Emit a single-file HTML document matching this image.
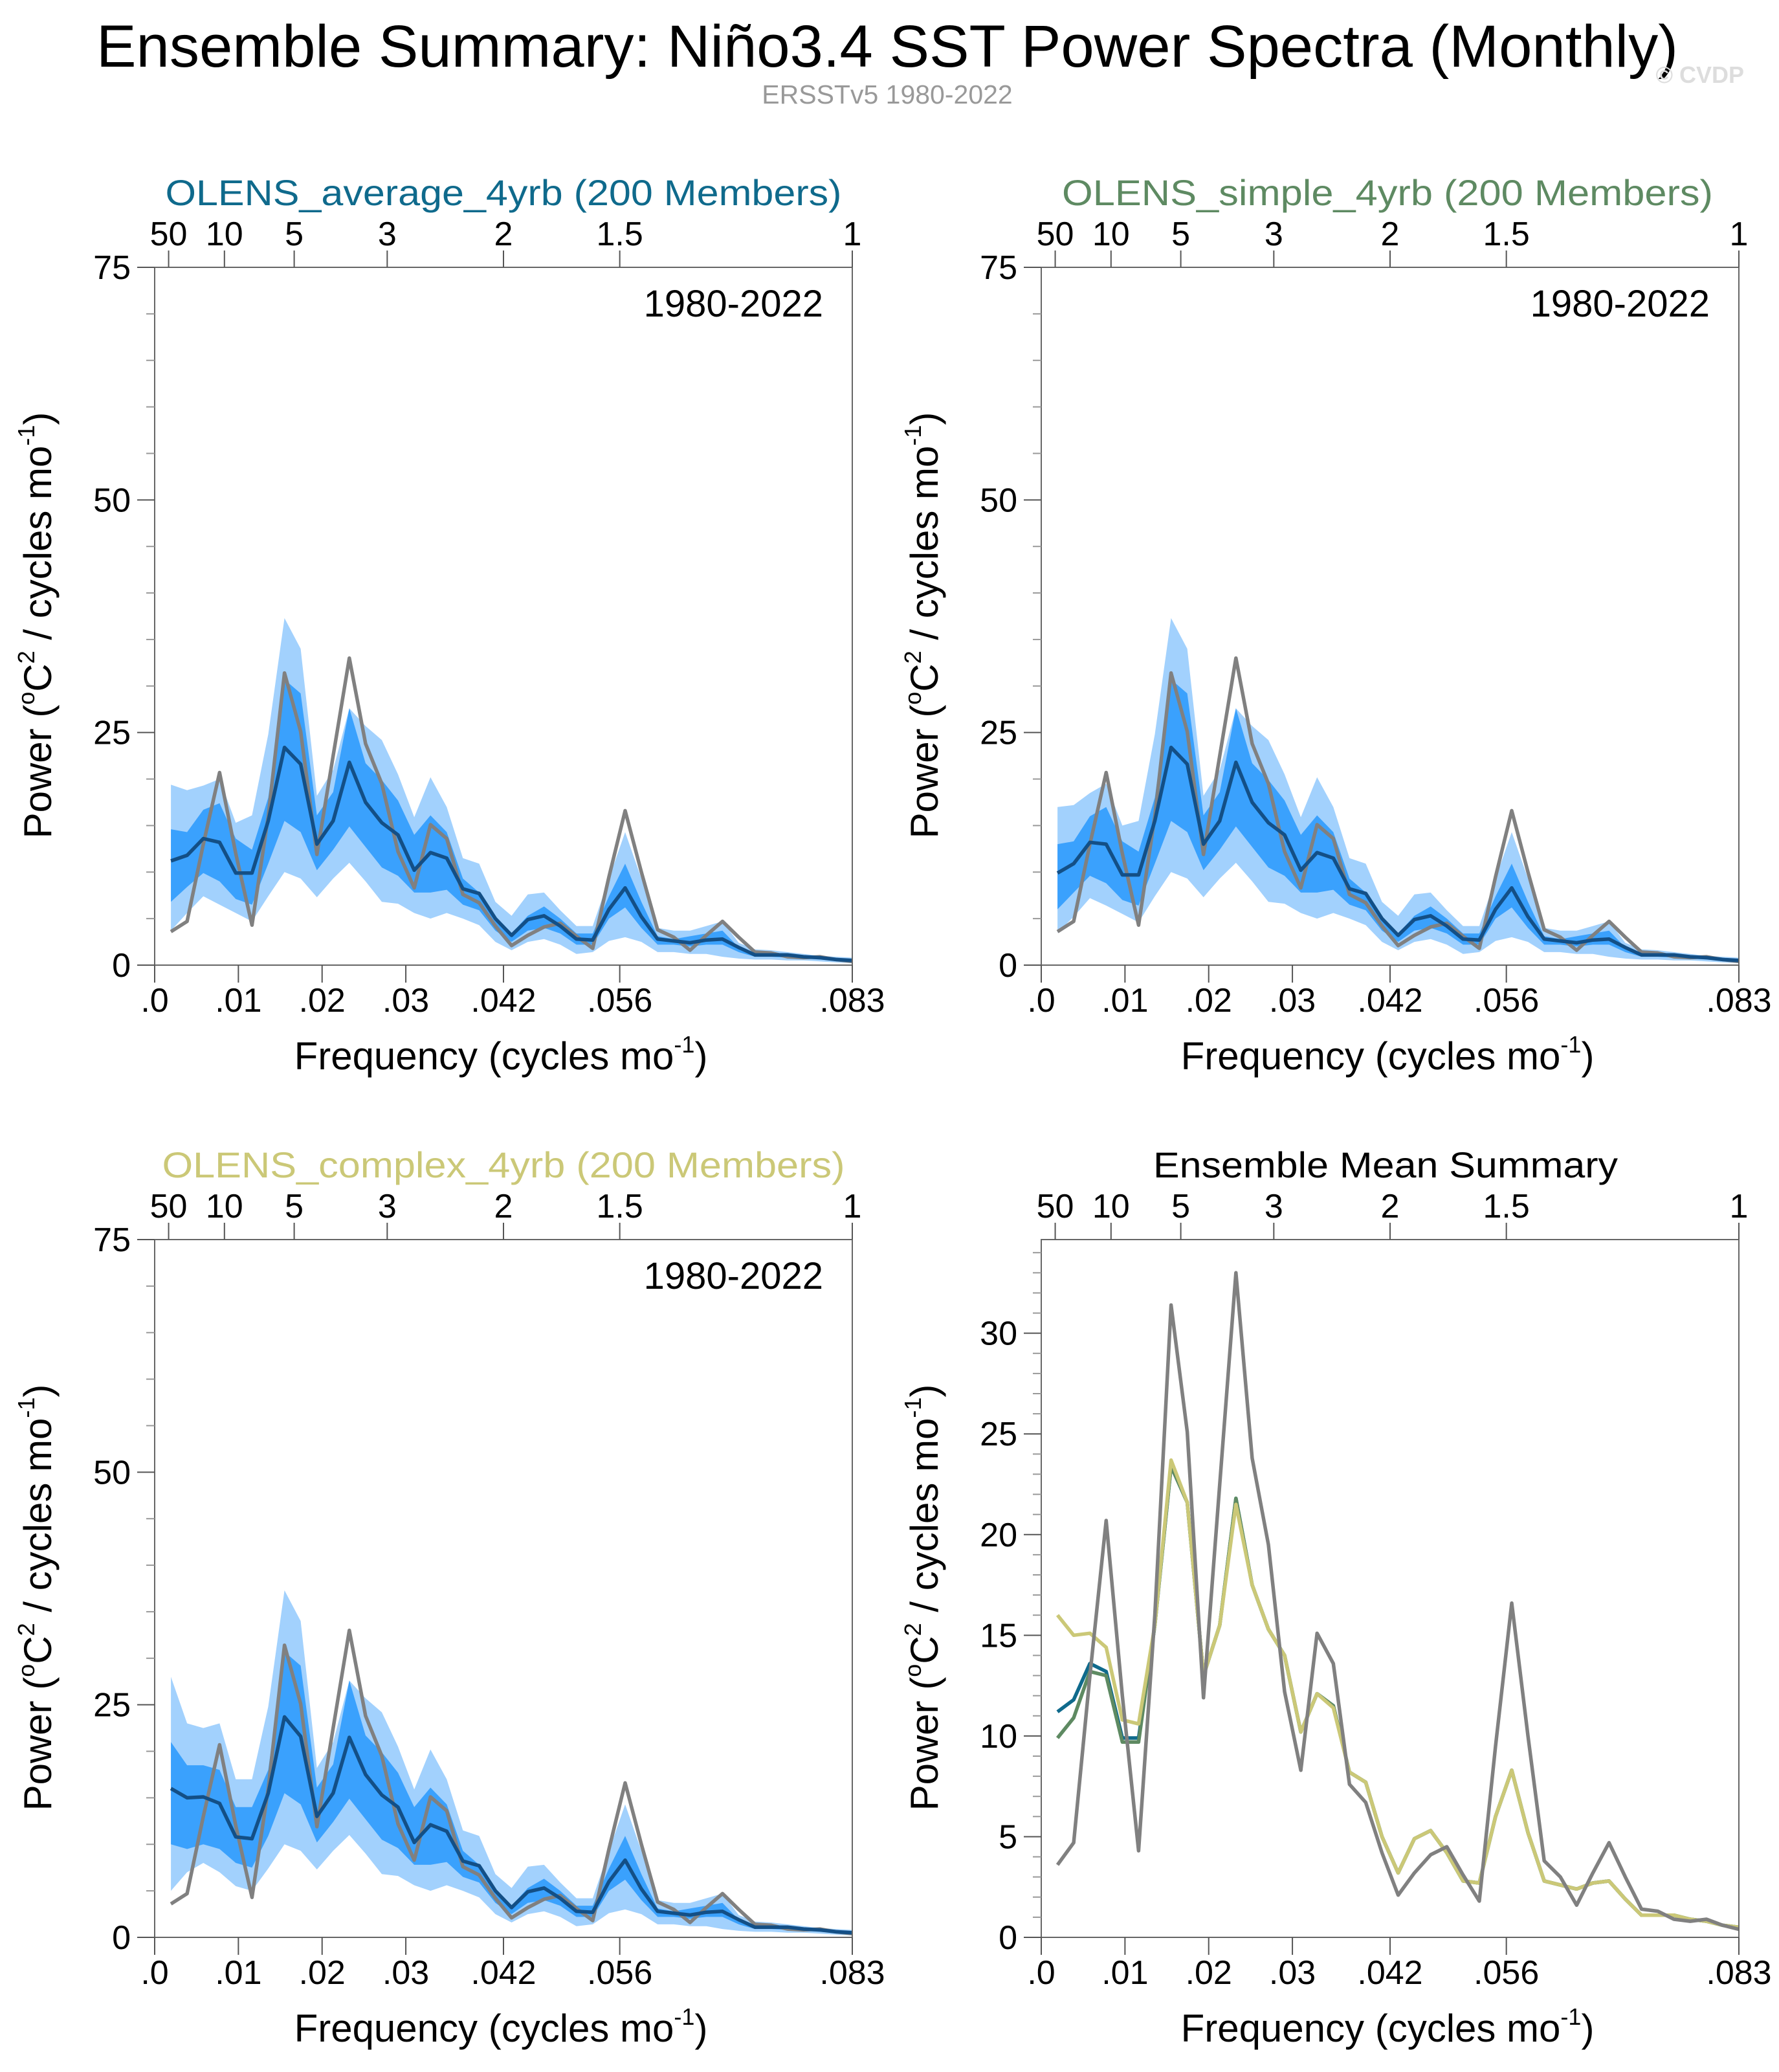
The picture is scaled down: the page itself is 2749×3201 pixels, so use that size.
<!DOCTYPE html>
<html><head><meta charset="utf-8"><style>
html,body{margin:0;padding:0;background:#fff;}
svg{display:block;font-family:"Liberation Sans",sans-serif;}
</style></head>
<body>
<svg id="fig" width="2749" height="3201" viewBox="0 0 2749 3201" xmlns="http://www.w3.org/2000/svg">
<text x="1371" y="103" font-size="92" text-anchor="middle" textLength="2444" lengthAdjust="spacingAndGlyphs">Ensemble Summary: Niño3.4 SST Power Spectra (Monthly)</text>
<text x="1371" y="160" font-size="41" fill="#999" text-anchor="middle">ERSSTv5 1980-2022</text>
<text x="2695" y="128" font-size="36" fill="#ddd" font-weight="bold" text-anchor="end">© CVDP</text>
</svg>
<script>
// frequencies index k=1..43 -> k/516 cycles per month
const nPts = 43;
const obs = [3.6,4.7,13,20.7,12,4.3,16,31.4,25.1,11.9,22.5,33.0,23.8,19.5,12.2,8.3,15.1,13.6,7.6,6.7,4.2,2.1,3.2,4.1,4.5,3.1,1.8,9.5,16.6,10,3.8,3.0,1.6,3.2,4.7,3.0,1.4,1.3,0.9,0.8,0.9,0.6,0.4];
const meanAvg = [11.2,11.8,13.6,13.2,9.9,9.9,15.5,23.4,21.6,13.0,15.5,21.8,17.5,15.3,14.0,10.2,12.1,11.5,8.2,7.7,5.0,3.2,4.9,5.3,4.2,2.8,2.7,6.0,8.3,5.2,2.8,2.6,2.4,2.7,2.8,1.9,1.1,1.1,1.1,0.9,0.8,0.6,0.5];
const meanSimple = [9.9,10.9,13.2,13.0,9.7,9.7,15.5,23.4,21.6,13.0,15.5,21.8,17.5,15.3,14.0,10.2,12.1,11.5,8.2,7.7,5.0,3.2,4.9,5.3,4.2,2.8,2.7,6.0,8.3,5.2,2.8,2.6,2.4,2.7,2.8,1.9,1.1,1.1,1.1,0.9,0.8,0.6,0.5];
const meanComplex = [16.0,15.0,15.1,14.4,10.8,10.6,15.5,23.7,21.6,13.0,15.5,21.5,17.5,15.3,14.0,10.2,12.1,11.4,8.2,7.7,5.0,3.2,4.9,5.3,4.2,2.8,2.7,6.0,8.3,5.2,2.8,2.6,2.4,2.7,2.8,1.9,1.1,1.1,1.1,0.9,0.8,0.6,0.5];
const lightUp = [19.4,18.8,19.3,20,15.3,16.1,24.8,37.3,34,18.2,21,27.6,25.7,24.2,20.5,15.9,20.2,17,11.5,10.9,6.8,5.3,7.6,7.8,5.9,4.2,4.2,9.3,14.3,9.3,4.0,3.7,3.7,4.2,4.7,2.4,1.7,1.6,1.4,1.2,1.0,0.9,0.8];
const lightLo = [3.7,5.6,7.4,6.5,5.6,4.7,7.4,10,9.3,7.3,9.3,11,9,6.8,6.6,5.6,5.0,5.6,5,4.3,2.5,1.6,2.5,2.8,2.2,1.2,1.4,2.6,3.0,2.5,1.4,1.4,1.2,1.2,0.9,0.7,0.6,0.6,0.5,0.5,0.4,0.3,0.2];
const darkUp = [14.6,14.3,16.7,17.4,13.6,12.4,18,30.7,29.2,16.1,18.6,27.6,21.7,19.9,17.7,14,16.1,14.3,9.3,7.8,5,3.4,5.3,6.3,5,3.4,3.4,7.4,10.9,6.8,3.1,2.8,3.1,3.4,3.7,1.9,1.2,1.2,1.1,1.0,0.9,0.7,0.6];
const darkLo = [6.8,8.4,9.9,9,7.1,6.5,10.9,15.5,14.3,10.2,12.4,14.9,12.7,10.5,9.6,7.8,7.8,8.1,6.5,5.9,3.7,2.5,3.7,4,3.4,2.2,2.2,5,6.2,4,2.2,2.2,2,2.2,2.2,1.4,0.9,0.9,0.8,0.7,0.6,0.5,0.4];
const simpleHead = {lu:[17,17.2,18.5,19.5,15,15.5], ll:[3.5,5.2,7.2,6.4,5.5,4.6], du:[13,13.3,16,17,13.3,12.2], dl:[6,7.8,9.6,8.8,7,6.4]};
const complexHead = {lu:[28,23,22.5,23,17,17], ll:[5,7,8,7,5.5,5], du:[21,18.5,18.5,18,14,14], dl:[10,9.5,10,9.5,8,7.5]};
const botTicks = [0,0.01,0.02,0.03,1/24,1/18,1/12];
const botLabels = [".0",".01",".02",".03",".042",".056",".083"];
const topPeriods = [50,10,5,3,2,1.5,1];
const topLabels = ["50","10","5","3","2","1.5","1"];

const NS = "http://www.w3.org/2000/svg";
const svg = document.getElementById('fig');
function mk(tag, attrs, parent){ const e=document.createElementNS(NS,tag); for(const k in attrs) e.setAttribute(k,attrs[k]); (parent||svg).appendChild(e); return e; }
function withHead(arr, head){ return head.concat(arr.slice(head.length)); }

function panel(o){
  const L=o.x, T=o.y, W=1078, H=1078, xmax=1/12, ymax=o.ymax;
  const g = mk('g',{});
  
  
  const X = f => L + f/xmax*W;
  const Y = v => T + H - v/ymax*H;
  const fr = k => (k+1)/516;
  function poly(up, lo, fill, name){
    let d='M'+up.map((v,i)=>X(fr(i)).toFixed(1)+','+Y(v).toFixed(1)).join(' L');
    for(let i=lo.length-1;i>=0;i--) d+=' L'+X(fr(i)).toFixed(1)+','+Y(lo[i]).toFixed(1);
    const p=mk('path',{d:d+'Z',fill:fill,stroke:'none'},g);
    
    
  }
  function line(vals, col, name, w){
    const p=mk('polyline',{points:vals.map((v,i)=>X(fr(i)).toFixed(1)+','+Y(v).toFixed(1)).join(' '),fill:'none',stroke:col,'stroke-width':w||5.5,'stroke-linejoin':'round'},g);
    
    
  }
  if(o.bands){
    poly(o.bands.lu,o.bands.ll,'#a2d1fd','outer-spread-band');
    poly(o.bands.du,o.bands.dl,'#3aa1fd','inner-spread-band');
    line(obs,'#808080','observed-line');
    line(o.mean,'#134f86','ensemble-mean-line');
  } else {
    line(meanAvg,'#0f6a8c','average-mean-line');
    line(meanSimple,'#5e8a62','simple-mean-line');
    line(meanComplex,'#cbc877','complex-mean-line');
    line(obs,'#808080','observed-line');
  }
  const fr2=mk('rect',{x:L,y:T,width:W,height:H,fill:'none',stroke:'#666','stroke-width':2},g);
  
  
  for(let v=0; v<=ymax+1e-6; v+=o.minor){
    const major = Math.abs(v/o.major-Math.round(v/o.major))<1e-6;
    mk('line',{x1:L-(major?27:13),x2:L,y1:Y(v),y2:Y(v),stroke:major?'#555':'#999','stroke-width':2},g);
    if(major){
      const t=mk('text',{x:L-37,y:Y(v)+18,'font-size':52,'text-anchor':'end'},g);
      t.textContent=String(Math.round(v));
      
      
    }
  }
  botTicks.forEach((f,i)=>{
    mk('line',{x1:X(f),x2:X(f),y1:T+H,y2:T+H+27,stroke:'#555','stroke-width':2},g);
    const t=mk('text',{x:X(f),y:T+H+72,'font-size':52,'text-anchor':'middle'},g);
    t.textContent=botLabels[i];
    
    
  });
  topPeriods.forEach((p,i)=>{
    const f=1/(p*12);
    mk('line',{x1:X(f),x2:X(f),y1:T,y2:T-26,stroke:'#555','stroke-width':2},g);
    const t=mk('text',{x:X(f),y:T-34,'font-size':52,'text-anchor':'middle'},g);
    t.textContent=topLabels[i];
    
    
  });
  const tt=mk('text',{x:L+W/2+o.tdx,y:T-96,'font-size':56,fill:o.tcol,'text-anchor':'middle',textLength:o.tlen,lengthAdjust:'spacingAndGlyphs'},g);
  tt.textContent=o.title;
  
  
  if(o.bands){
    const yr=mk('text',{x:L+W-45,y:T+76,'font-size':58,'text-anchor':'end'},g);
    yr.textContent='1980-2022';
    
    
  }
  const xt=mk('text',{x:L+535,y:T+H+161,'font-size':60,'text-anchor':'middle'},g);
  xt.innerHTML='Frequency (cycles mo<tspan font-size="36" dy="-26">-1</tspan><tspan dy="26">)</tspan>';
  
  
  const yt=mk('text',{transform:`translate(${L-160},${T+H/2+14}) rotate(-90)`,'font-size':60,'text-anchor':'middle'},g);
  yt.innerHTML='Power (<tspan font-size="36" dy="-26">o</tspan><tspan dy="26">C</tspan><tspan font-size="36" dy="-26">2</tspan><tspan dy="26"> / cycles mo</tspan><tspan font-size="36" dy="-26">-1</tspan><tspan dy="26">)</tspan>';
  
  
}

const baseBands = {lu:lightUp, ll:lightLo, du:darkUp, dl:darkLo};
panel({name:'panel-average',x:239,y:413,ymax:75,minor:5,major:25,bands:baseBands,mean:meanAvg,title:'OLENS_average_4yrb (200 Members)',tcol:'#0f6a8c',tlen:1045,tdx:0});
panel({name:'panel-simple',x:1609,y:413,ymax:75,minor:5,major:25,bands:{lu:withHead(lightUp,simpleHead.lu),ll:withHead(lightLo,simpleHead.ll),du:withHead(darkUp,simpleHead.du),dl:withHead(darkLo,simpleHead.dl)},mean:meanSimple,title:'OLENS_simple_4yrb (200 Members)',tcol:'#5e8a62',tlen:1006,tdx:-4});
panel({name:'panel-complex',x:239,y:1915,ymax:75,minor:5,major:25,bands:{lu:withHead(lightUp,complexHead.lu),ll:withHead(lightLo,complexHead.ll),du:withHead(darkUp,complexHead.du),dl:withHead(darkLo,complexHead.dl)},mean:meanComplex,title:'OLENS_complex_4yrb (200 Members)',tcol:'#cbc877',tlen:1055,tdx:0});
panel({name:'panel-ensemble-mean-summary',x:1609,y:1915,ymax:34.65,minor:1,major:5,bands:null,title:'Ensemble Mean Summary',tcol:'#000',tlen:718,tdx:-7});
</script>
</body></html>
